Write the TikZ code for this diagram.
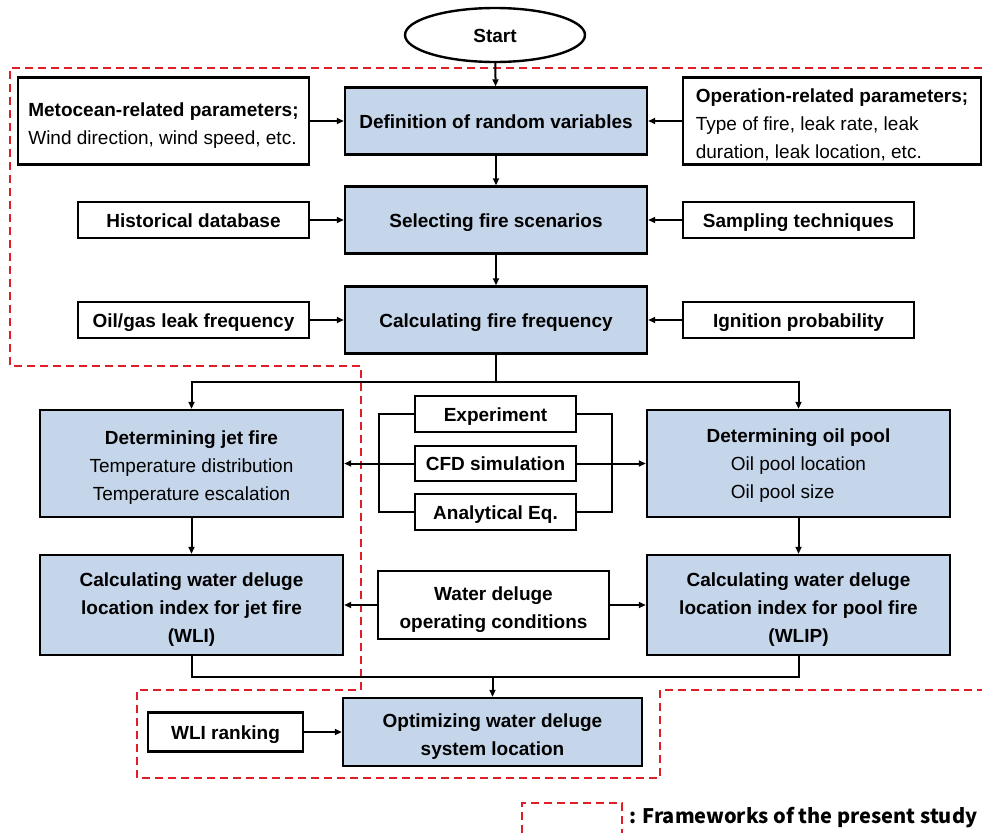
\documentclass[tikz,border=0pt]{standalone}
\usepackage{fontspec}
\setmainfont{Liberation Sans}
\newfontfamily\legendfont{Noto Sans CJK KR}
\usetikzlibrary{arrows.meta,shapes.geometric}

\definecolor{boxblue}{RGB}{197,214,235}
\definecolor{studyred}{RGB}{225,30,40}
\newcommand{\liftstrut}{\rule{0pt}{23pt}}

\tikzset{
	box/.style={draw=black, line width=2.4pt, inner sep=0pt, align=center, font=\fontsize{19}{28}\selectfont\bfseries,
		execute at begin node={\rule{0pt}{19pt}}, execute at end node={\rule[-5pt]{0pt}{5pt}}},
	mainbox/.style={box, fill=boxblue},
	sidebox/.style={box, fill=white},
	arr/.style={line width=2pt, -{Triangle[length=7pt,width=6pt]}},
	link/.style={line width=2pt},
	studyframe/.style={draw=studyred, line width=1.6pt, dash pattern=on 8pt off 5pt},
}

\begin{document}
\begin{tikzpicture}[x=1pt,y=-1pt]
				\useasboundingbox (0,0) rectangle (982,833);

				\draw[studyframe] (982,68) -- (10,68) -- (10,366) -- (361,366) -- (361,690) -- (137,690) -- (137,778) -- (660,778) -- (660,690) -- (982,690);

				\node[box, ellipse, fill=white, minimum width=180pt, minimum height=54pt] (start) at (495,35) {Start};

				\node[mainbox, minimum width=302pt, minimum height=67pt] (defn) at (496,121) {Definition of random variables};
				\node[mainbox, minimum width=302pt, minimum height=67pt] (select) at (496,220) {Selecting fire scenarios};
				\node[mainbox, minimum width=302pt, minimum height=67pt] (freq) at (496,320) {Calculating fire frequency};

				\node[sidebox, align=left, minimum width=291pt, minimum height=87pt] (meto) at (163.5,121) {\liftstrut Metocean-related parameters;\\\mdseries Wind direction, wind speed, etc.};
				\node[sidebox, align=left, minimum width=298pt, minimum height=87pt] (oper) at (832,121) {\liftstrut Operation-related parameters;\\\mdseries Type of fire, leak rate, leak\\\mdseries duration, leak location, etc.};
				\node[sidebox, minimum width=231pt, minimum height=36pt] (hist) at (193.5,220) {Historical database};
				\node[sidebox, minimum width=231pt, minimum height=36pt] (samp) at (798.5,220) {Sampling techniques};
				\node[sidebox, minimum width=231pt, minimum height=36pt] (leak) at (193.5,320) {Oil/gas leak frequency};
				\node[sidebox, minimum width=231pt, minimum height=36pt] (ign) at (798.5,320) {Ignition probability};

				\node[mainbox, minimum width=303pt, minimum height=107pt] (jet) at (191.5,463.5) {\liftstrut Determining jet fire\\\mdseries Temperature distribution\\\mdseries Temperature escalation};
				\node[mainbox, minimum width=303pt, minimum height=107pt] (pool) at (798.5,463.5) {\liftstrut Determining oil pool\\\mdseries\begin{tabular}[t]{@{}l@{}}Oil pool location\\Oil pool size\end{tabular}};

				\node[sidebox, minimum width=161pt, minimum height=36pt] (expt) at (495.5,414) {Experiment};
				\node[sidebox, minimum width=161pt, minimum height=35pt] (cfd) at (495.5,463.5) {CFD simulation};
				\node[sidebox, minimum width=161pt, minimum height=36pt] (anal) at (495.5,512) {Analytical Eq.};

				\node[mainbox, minimum width=303pt, minimum height=100pt] (wli) at (191.5,605) {\liftstrut Calculating water deluge\\location index for jet fire\\(WLI)};
				\node[mainbox, minimum width=303pt, minimum height=100pt] (wlip) at (798.5,605) {\liftstrut Calculating water deluge\\location index for pool fire\\(WLIP)};
				\node[sidebox, minimum width=231pt, minimum height=68pt] (cond) at (493.5,605) {\liftstrut Water deluge\\operating conditions};

				\node[mainbox, minimum width=299pt, minimum height=68pt] (opt) at (492.5,732) {\liftstrut Optimizing water deluge\\system location};
				\node[sidebox, minimum width=155pt, minimum height=39pt] (rank) at (225.5,732) {WLI ranking};

				\coordinate (split) at (496,382);
				\coordinate (lbr) at (379,463.5);
				\coordinate (rbr) at (612,463.5);
				\coordinate (join) at (492.5,677);

				\draw[arr] (start) -- (defn);
				\draw[arr] (defn) -- (select);
				\draw[arr] (select) -- (freq);
				\draw[arr] (meto) -- (defn);
				\draw[arr] (oper) -- (defn);
				\draw[arr] (hist) -- (select);
				\draw[arr] (samp) -- (select);
				\draw[arr] (leak) -- (freq);
				\draw[arr] (ign) -- (freq);

				\draw[link] (freq) -- (split);
				\draw[arr] (split) -| (jet);
				\draw[arr] (split) -| (pool);

				\draw[link] (expt.west) -| (lbr) |- (anal.west);
				\draw[link] (expt.east) -| (rbr) |- (anal.east);
				\draw[arr] (cfd) -- (jet);
				\draw[arr] (cfd) -- (pool);

				\draw[arr] (jet) -- (wli);
				\draw[arr] (pool) -- (wlip);
				\draw[arr] (cond) -- (wli);
				\draw[arr] (cond) -- (wlip);

				\draw[link] (wli.south) |- (join) -| (wlip.south);
				\draw[arr] (join) -- (opt);
				\draw[arr] (rank) -- (opt);

				\draw[studyframe] (522,833) -- (522,803) -- (622,803) -- (622,833);
				\node[anchor=west, font=\legendfont\bfseries\fontsize{20}{24}\selectfont] (legend) at (626,818) {: Frameworks of the present study};
			\end{tikzpicture}
\end{document}
